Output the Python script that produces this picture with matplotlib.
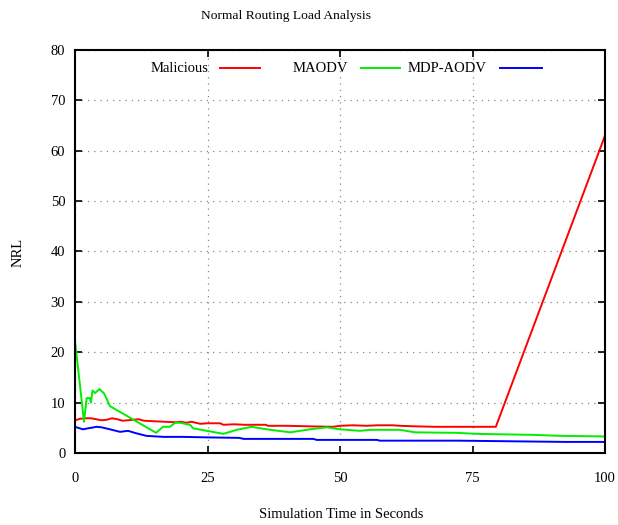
import matplotlib
matplotlib.use("Agg")
import matplotlib.pyplot as plt

# ---- data ----
mal_x = [0, 1, 2, 3, 4, 5, 6, 7, 8, 9, 10, 12, 13, 15, 17, 19, 20, 21, 22, 23.6, 25, 27.4, 28,
         30, 32, 36, 36.4, 40, 44, 48.7, 50, 52.5, 55, 57, 60, 61.3, 64, 68, 72, 76, 79.4, 100]
mal_y = [6.5, 6.8, 6.9, 6.9, 6.7, 6.5, 6.6, 6.9, 6.7, 6.4, 6.5, 6.7, 6.4, 6.3, 6.2, 6.1, 6.2, 6.0, 6.2,
         5.8, 5.9, 5.9, 5.6, 5.7, 5.6, 5.6, 5.4, 5.4, 5.3, 5.2, 5.4, 5.5, 5.4, 5.5, 5.5, 5.4, 5.3, 5.2,
         5.2, 5.2, 5.2, 63.0]

maodv_x = [0, 1.7, 2.2, 2.8, 3.0, 3.3, 3.8, 4.6, 5.0, 5.5, 6.6, 15.3, 16.6, 17.9, 18.9, 19.8, 21.7,
           22.3, 28, 30.5, 33.3, 36.2, 40.6, 44.3, 47.5, 50, 53.8, 55.7, 61.3, 64.2, 72, 75.8, 86.5,
           91.8, 99.4, 100]
maodv_y = [22.3, 6.2, 10.9, 10.9, 10.0, 12.4, 11.9, 12.7, 12.3, 11.8, 9.3, 4.0, 5.2, 5.2, 6.0, 6.0, 5.6,
           4.9, 3.8, 4.6, 5.2, 4.7, 4.1, 4.7, 5.1, 4.7, 4.4, 4.6, 4.6, 4.1, 4.0, 3.8, 3.6, 3.4, 3.3, 3.2]

mdp_x = [0, 1.5, 2.5, 4.1, 5, 6.6, 8.5, 10, 11.6, 13.5, 16.7, 20.4, 25, 31, 31.8, 45, 45.6, 57, 57.5,
         72.3, 92.5, 100]
mdp_y = [5.2, 4.7, 4.9, 5.2, 5.1, 4.7, 4.2, 4.4, 3.9, 3.4, 3.2, 3.2, 3.1, 3.0, 2.8, 2.8, 2.6, 2.6, 2.45,
         2.45, 2.2, 2.2]

legend_labels = ["Malicious", "MAODV", "MDP-AODV"]
colors = ["#ff0000", "#00ee00", "#0000ff"]
x_ticks = [0, 25, 50, 75, 100]
y_ticks = [0, 10, 20, 30, 40, 50, 60, 70, 80]

plt.rcParams['font.family'] = ['Liberation Serif', 'DejaVu Serif']

fig = plt.figure(figsize=(6.18, 5.25), dpi=100)
W, H = 618, 525
ax = fig.add_axes([75 / W, 1 - 453 / H, (605 - 75) / W, (453 - 50) / H])

for xs, ys, c in zip([mal_x, maodv_x, mdp_x], [mal_y, maodv_y, mdp_y], colors):
    ax.plot(xs, ys, color=c, lw=1.4)

ax.set_xlim(0, 100)
ax.set_ylim(0, 80)
ax.set_xticks(x_ticks)
ax.set_yticks(y_ticks)
ax.tick_params(direction='in', length=5, width=1.2, top=True, right=True,
               labelsize=10.5)
ax.tick_params(axis='x', pad=14)
ax.tick_params(axis='y', pad=7)
for s in ax.spines.values():
    s.set_linewidth(1.5)
ax.grid(True, linestyle=(0, (1, 4)), color='#888888', linewidth=0.9)

# legend (gnuplot style: text then sample)
legend_text_x = [151, 293, 408]
legend_line_x = [(220, 260), (361, 400), (500, 542)]
ly = 68
for lab, tx, (l0, l1), c in zip(legend_labels, legend_text_x, legend_line_x, colors):
    fig.text(tx / W, 1 - ly / H, lab, fontsize=10.5, ha='left', va='center')
    fig.add_artist(plt.Line2D([l0 / W, l1 / W], [1 - ly / H, 1 - ly / H], color=c, lw=1.4))

fig.text(286 / W, 1 - 16 / H, "Normal Routing Load Analysis", fontsize=9.7, ha='center', va='center')
fig.text(341 / W, 1 - 514 / H, "Simulation Time in Seconds", fontsize=10.5, ha='center', va='center')
fig.text(18 / W, 1 - 252 / H, "NRL", fontsize=10.5, ha='center', va='center', rotation=90)

fig.savefig("out.png", dpi=100)
